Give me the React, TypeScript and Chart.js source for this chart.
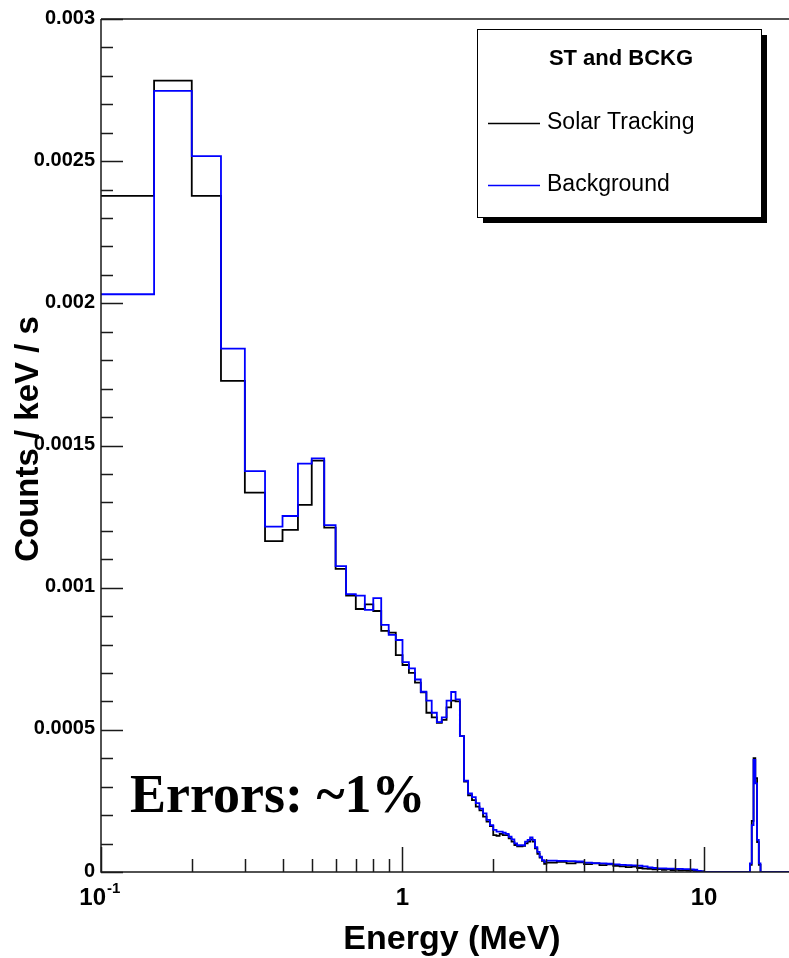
import { useEffect, useRef } from "react";
import { Chart, registerables } from "chart.js";

Chart.register(...registerables);

// Histogram bin edges in MeV (N + 1 edges for N bins)
const BIN_EDGES = [
  0.1, 0.15, 0.2, 0.25, 0.3, 0.35, 0.4, 0.45, 0.5, 0.55, 0.6, 0.65, 0.7, 0.75, 0.8, 0.85, 0.9, 0.95,
  1.0, 1.05, 1.1, 1.15, 1.2, 1.25, 1.3, 1.35, 1.4, 1.45, 1.5, 1.55, 1.6, 1.65, 1.7, 1.75, 1.8, 1.85, 1.9, 1.95,
  2.0, 2.05, 2.1, 2.15, 2.2, 2.25, 2.3, 2.35, 2.4, 2.45, 2.5, 2.55, 2.6, 2.65, 2.7, 2.75, 2.8, 2.85, 2.9, 2.95,
  3.0, 3.25, 3.5, 3.75, 4.0, 4.25, 4.5, 4.75, 5.0, 5.25, 5.5, 5.75, 6.0, 6.25, 6.5, 6.75,
  7.0, 7.25, 7.5, 7.75, 8.0, 8.25, 8.5, 8.75, 9.0, 9.25, 9.5, 9.75, 10.0,
  14.2, 14.4, 14.6, 14.8, 15.0, 15.2, 15.4, 19.2,
];

// Solar Tracking rate per bin (counts / keV / s)
const SOLAR_TRACKING = [
  0.002378, 0.002783, 0.002378, 0.001727, 0.001334, 0.001164, 0.001203, 0.001291, 0.001447, 0.001211,
  0.001066, 0.000972, 0.000925, 0.000941, 0.000918, 0.000848, 0.000842, 0.000763,
  0.000728, 0.0007, 0.000666, 0.000632, 0.00056, 0.000544, 0.000525, 0.000535, 0.000579, 0.000603,
  0.0006, 0.000478, 0.000318, 0.00027, 0.000253, 0.00023, 0.000217, 0.000195, 0.000177, 0.000161,
  0.00013, 0.000127, 0.000134, 0.00013, 0.00013, 0.000118, 0.000107, 0.000095, 0.00009, 0.00009,
  0.000092, 0.000101, 0.000107, 0.000115, 0.000107, 0.000083, 0.000064, 0.000051, 0.000039, 0.000029,
  0.000033, 0.000036, 0.00003, 0.000034, 0.000028, 0.00003, 0.000024, 0.000027, 0.000022, 0.00002,
  0.000017, 0.000019, 0.000014, 0.000012, 0.000011, 0.000009, 0.00001, 0.000008, 0.000009, 0.000007,
  0.000008, 0.000006, 0.000007, 0.000005, 0.000006, 0.000004, 0.000003, 0.000002,
  0,
  0.000025, 0.00018, 0.0004, 0.00033, 0.000105, 0.000025,
  0,
];

// Background rate per bin (counts / keV / s)
const BACKGROUND = [
  0.002032, 0.002747, 0.002518, 0.001841, 0.00141, 0.001215, 0.001252, 0.001436, 0.001455, 0.00122,
  0.001076, 0.000977, 0.000972, 0.000922, 0.000963, 0.000869, 0.000834, 0.000816,
  0.000738, 0.000716, 0.000677, 0.000634, 0.000603, 0.00056, 0.000527, 0.000544, 0.000603, 0.000633,
  0.000607, 0.000478, 0.000321, 0.000276, 0.000263, 0.000242, 0.000223, 0.000206, 0.000183, 0.000165,
  0.000148, 0.000142, 0.000142, 0.000138, 0.000134, 0.000124, 0.000115, 0.000101, 0.000094, 0.000094,
  0.000094, 0.000107, 0.000113, 0.000122, 0.000113, 0.000087, 0.000071, 0.000054, 0.000042, 0.000036,
  0.00004, 0.000039, 0.000038, 0.000037, 0.000033, 0.000031, 0.00003, 0.000029, 0.000027, 0.000025,
  0.000024, 0.000023, 0.000022, 0.00002, 0.000016, 0.000014, 0.000013, 0.000013, 0.000012, 0.000012,
  0.000011, 0.000011, 0.00001, 0.00001, 0.000009, 0.000008, 0.000004, 0.000002,
  0,
  0.00003, 0.000165, 0.000394, 0.000312, 0.000113, 0.00003,
  0,
];

const X_MIN = 0.1;
const X_MAX = 19.14;
const Y_MIN = 0;
const Y_MAX = 0.003;

const Y_MAJOR_TICKS = [0, 0.0005, 0.001, 0.0015, 0.002, 0.0025, 0.003];
const Y_MAJOR_LABELS = ["0", "0.0005", "0.001", "0.0015", "0.002", "0.0025", "0.003"];
const Y_MINOR_STEP = 0.0001;

const X_MAJOR_TICKS = [0.1, 1, 10];
const X_MINOR_TICKS = [0.2, 0.3, 0.4, 0.5, 0.6, 0.7, 0.8, 0.9, 2, 3, 4, 5, 6, 7, 8, 9];

const SERIES_NAMES = ["Solar Tracking", "Background"];
const SERIES_COLORS = ["#000000", "#0000ff"];
const LEGEND_TITLE = "ST and BCKG";
const NOTE_TEXT = "Errors: ~1%";

// Each bin becomes a point at its lower edge; a closing point at the last upper edge.
function histogramPoints(edges: number[], values: number[]) {
  const pts = values.map((v, i) => ({ x: edges[i], y: v }));
  pts.push({ x: edges[values.length], y: values[values.length - 1] });
  return pts;
}

const SANS = '"Liberation Sans", Arial, Helvetica, sans-serif';

const decorations = {
  id: "rootFrame",
  afterDraw(chart: any) {
    const { ctx, chartArea: a } = chart;
    const xs = chart.scales.x;
    const ys = chart.scales.y;
    ctx.save();

    // frame: top edge, left and bottom axes
    ctx.strokeStyle = "#1a1a1a";
    ctx.lineWidth = 1.5;
    ctx.beginPath();
    ctx.moveTo(a.left, a.top);
    ctx.lineTo(a.right, a.top);
    ctx.moveTo(a.left, a.top);
    ctx.lineTo(a.left, a.bottom);
    ctx.lineTo(a.right, a.bottom);
    ctx.stroke();

    // y ticks (inside)
    ctx.beginPath();
    const nMinor = Math.round((Y_MAX - Y_MIN) / Y_MINOR_STEP);
    for (let i = 0; i <= nMinor; i++) {
      const v = Y_MIN + i * Y_MINOR_STEP;
      const y = Math.round(ys.getPixelForValue(v)) + 0.5;
      const major = i % 5 === 0;
      ctx.moveTo(a.left, y);
      ctx.lineTo(a.left + (major ? 22 : 12), y);
    }
    // x ticks (inside)
    X_MINOR_TICKS.forEach((v) => {
      const x = Math.round(xs.getPixelForValue(v)) + 0.5;
      ctx.moveTo(x, a.bottom);
      ctx.lineTo(x, a.bottom - 13);
    });
    X_MAJOR_TICKS.forEach((v) => {
      const x = Math.round(xs.getPixelForValue(v)) + 0.5;
      ctx.moveTo(x, a.bottom);
      ctx.lineTo(x, a.bottom - 25);
    });
    ctx.stroke();

    // y tick labels
    ctx.fillStyle = "#000";
    ctx.font = `bold 20px ${SANS}`;
    ctx.textAlign = "right";
    ctx.textBaseline = "middle";
    Y_MAJOR_TICKS.forEach((v, i) => {
      ctx.fillText(Y_MAJOR_LABELS[i], a.left - 6, ys.getPixelForValue(v) - 1);
    });

    // x tick labels
    ctx.font = `bold 24px ${SANS}`;
    ctx.textBaseline = "middle";
    const labelY = a.bottom + 26;
    const x0 = xs.getPixelForValue(X_MAJOR_TICKS[0]);
    ctx.textAlign = "right";
    ctx.fillText("10", x0 + 5, labelY);
    ctx.font = `bold 15px ${SANS}`;
    ctx.textAlign = "left";
    ctx.fillText("-1", x0 + 6, labelY - 9);
    ctx.font = `bold 24px ${SANS}`;
    ctx.textAlign = "center";
    ctx.fillText("1", xs.getPixelForValue(X_MAJOR_TICKS[1]), labelY);
    ctx.fillText("10", xs.getPixelForValue(X_MAJOR_TICKS[2]), labelY);

    // axis titles
    ctx.font = `bold 34px ${SANS}`;
    ctx.textAlign = "center";
    ctx.textBaseline = "middle";
    ctx.fillText("Energy (MeV)", 452, 940);
    ctx.font = `bold 33px ${SANS}`;
    ctx.save();
    ctx.translate(29, 439);
    ctx.rotate(-Math.PI / 2);
    ctx.fillText("Counts / keV / s", 0, 0);
    ctx.restore();

    // legend box with drop shadow
    const lx = 477, ly = 29, lw = 284, lh = 188;
    ctx.fillStyle = "#000";
    ctx.fillRect(lx + 6, ly + 6, lw, lh);
    ctx.fillStyle = "#fff";
    ctx.fillRect(lx, ly, lw, lh);
    ctx.strokeStyle = "#000";
    ctx.lineWidth = 1;
    ctx.strokeRect(lx + 0.5, ly + 0.5, lw, lh);

    ctx.fillStyle = "#000";
    ctx.font = `bold 22px ${SANS}`;
    ctx.textAlign = "center";
    ctx.fillText(LEGEND_TITLE, 621, 59);

    const rows = [123, 185];
    ctx.font = `23px ${SANS}`;
    ctx.textAlign = "left";
    SERIES_NAMES.forEach((name, i) => {
      ctx.strokeStyle = SERIES_COLORS[i];
      ctx.lineWidth = 1.5;
      ctx.beginPath();
      ctx.moveTo(488, rows[i] + 0.5);
      ctx.lineTo(540, rows[i] + 0.5);
      ctx.stroke();
      ctx.fillStyle = "#000";
      ctx.fillText(name, 547, rows[i]);
    });

    // annotation
    ctx.font = `bold 54px "Liberation Serif", "Times New Roman", serif`;
    ctx.textAlign = "left";
    ctx.textBaseline = "alphabetic";
    ctx.fillText(NOTE_TEXT, 130, 812);

    ctx.restore();
  },
};

export default function App() {
  const canvasRef = useRef<HTMLCanvasElement | null>(null);

  useEffect(() => {
    const canvas = canvasRef.current;
    if (!canvas) return;
    const chart = new Chart(canvas, {
      type: "line",
      data: {
        datasets: [
          {
            label: SERIES_NAMES[0],
            data: histogramPoints(BIN_EDGES, SOLAR_TRACKING),
            borderColor: SERIES_COLORS[0],
            borderWidth: 1.8,
            stepped: "before",
            pointRadius: 0,
            fill: false,
            order: 1,
          },
          {
            label: SERIES_NAMES[1],
            data: histogramPoints(BIN_EDGES, BACKGROUND),
            borderColor: SERIES_COLORS[1],
            borderWidth: 1.8,
            stepped: "before",
            pointRadius: 0,
            fill: false,
            order: 0,
          },
        ],
      },
      options: {
        animation: false,
        responsive: true,
        maintainAspectRatio: false,
        devicePixelRatio: 1,
        parsing: false,
        layout: { padding: { left: 101, top: 19, right: 0, bottom: 86 } },
        plugins: { legend: { display: false }, tooltip: { enabled: false } },
        events: [],
        scales: {
          x: { type: "logarithmic", min: X_MIN, max: X_MAX, display: false },
          y: { type: "linear", min: Y_MIN, max: Y_MAX, display: false },
        },
      },
      plugins: [decorations],
    });
    return () => chart.destroy();
  }, []);

  return (
    <div style={{ position: "absolute", left: 0, top: 0, width: 789, height: 958, background: "#fff" }}>
      <canvas ref={canvasRef} />
    </div>
  );
}
